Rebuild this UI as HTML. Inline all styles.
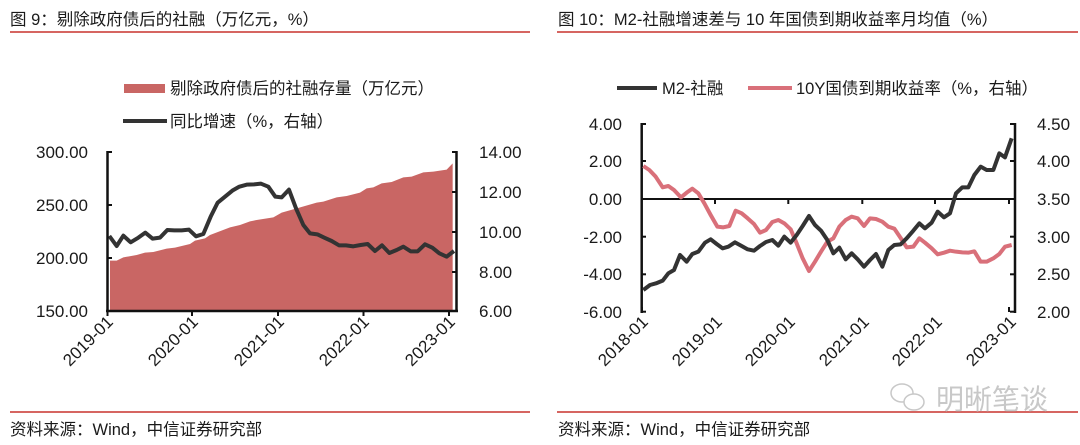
<!DOCTYPE html>
<html><head><meta charset="utf-8"><style>
html,body{margin:0;padding:0;background:#fff}
svg{display:block}
text{font-family:"Liberation Sans","Noto Sans CJK SC",sans-serif;fill:#1a1a1a}
.t{font-size:16.5px}
.tk{font-size:17px}
.xl{font-size:17px}
</style></head><body>
<svg width="1080" height="445" viewBox="0 0 1080 445" xmlns="http://www.w3.org/2000/svg">
<text x="10" y="25" class="t">图 9：剔除政府债后的社融（万亿元，%）</text>
<line x1="10" y1="32" x2="530" y2="32" stroke="#c8322d" stroke-width="1.5"/>
<text x="558" y="25" class="t">图 10：M2-社融增速差与 10 年国债到期收益率月均值（%）</text>
<line x1="557" y1="32" x2="1078" y2="32" stroke="#c8322d" stroke-width="1.5"/>
<line x1="10" y1="412" x2="530" y2="412" stroke="#c8322d" stroke-width="1.5"/>
<line x1="557" y1="412" x2="1078" y2="412" stroke="#c8322d" stroke-width="1.5"/>
<text x="10" y="435" class="t">资料来源：Wind，中信证券研究部</text>
<text x="558" y="435" class="t">资料来源：Wind，中信证券研究部</text>

<rect x="124" y="84" width="41" height="9" fill="#c96664"/>
<text x="170" y="94" class="t">剔除政府债后的社融存量（万亿元）</text>
<line x1="123" y1="121" x2="167" y2="121" stroke="#333" stroke-width="4"/>
<text x="170" y="127" class="t">同比增速（%，右轴）</text>

<g transform="translate(90,140) scale(0.33333)">
<polygon fill="#c96664" points="60,513 60,362 80,362 100,352 140,345 165,338 190,336 230,326 255,323 300,312 315,302 345,295 360,285 420,262 450,255 480,244 500,240 550,232 575,218 620,205 680,188 700,185 740,172 770,168 810,158 830,145 850,142 875,130 905,126 940,112 965,110 1000,97 1030,95 1070,89 1088,70 1088,513"/>
<polyline fill="none" stroke="#333" stroke-width="4" vector-effect="non-scaling-stroke" stroke-linejoin="round" points="58,288 80,318 100,287 122,307 145,293 166,278 188,296 210,293 232,270 253,271 275,271 297,269 318,289 340,282 362,230 383,188 405,170 427,152 448,140 470,134 492,133 513,131 535,140 556,170 575,172 597,149 618,205 640,255 660,280 682,283 703,293 725,303 747,316 768,316 790,319 812,315 833,312 855,333 876,316 898,339 920,330 940,320 962,334 983,334 1005,313 1027,323 1048,340 1070,350 1092,333"/>
</g>
<g stroke="#111" stroke-width="2.5" fill="none">
<line x1="107.5" y1="151" x2="107.5" y2="312"/>
<line x1="456.5" y1="151" x2="456.5" y2="312"/>
<line x1="106" y1="311" x2="458" y2="311"/>
</g>
<g stroke="#111" stroke-width="2">
<line x1="107" y1="152" x2="112" y2="152"/><line x1="107" y1="205" x2="112" y2="205"/><line x1="107" y1="258" x2="112" y2="258"/>
<line x1="452" y1="152" x2="457" y2="152"/><line x1="452" y1="192" x2="457" y2="192"/><line x1="452" y1="232" x2="457" y2="232"/><line x1="452" y1="272" x2="457" y2="272"/>
<line x1="107.5" y1="311" x2="107.5" y2="316"/><line x1="192" y1="311" x2="192" y2="316"/><line x1="278" y1="311" x2="278" y2="316"/><line x1="363.5" y1="311" x2="363.5" y2="316"/><line x1="449" y1="311" x2="449" y2="316"/>
</g>
<g class="tk" text-anchor="end">
<text x="88" y="158">300.00</text><text x="88" y="211">250.00</text><text x="88" y="264">200.00</text><text x="88" y="317">150.00</text>
</g>
<g class="tk">
<text x="479" y="158">14.00</text><text x="479" y="198">12.00</text><text x="479" y="238">10.00</text><text x="479" y="278">8.00</text><text x="479" y="317">6.00</text>
</g>
<g class="xl" text-anchor="end">
<text transform="translate(114,323) rotate(-45)">2019-01</text>
<text transform="translate(199,323) rotate(-45)">2020-01</text>
<text transform="translate(285,323) rotate(-45)">2021-01</text>
<text transform="translate(370,323) rotate(-45)">2022-01</text>
<text transform="translate(456,323) rotate(-45)">2023-01</text>
</g>

<line x1="617" y1="88" x2="657" y2="88" stroke="#333" stroke-width="4"/>
<text x="662" y="94" class="t">M2-社融</text>
<line x1="748" y1="88" x2="792" y2="88" stroke="#d9707a" stroke-width="4"/>
<text x="796" y="94" class="t">10Y国债到期收益率（%，右轴）</text>

<g stroke="#111" fill="none">
<line x1="641.7" y1="123" x2="641.7" y2="313" stroke-width="2.5"/>
<line x1="1015" y1="123" x2="1015" y2="313" stroke-width="2.5"/>
<line x1="641" y1="199" x2="1015" y2="199" stroke-width="2"/>
</g>
<g stroke="#111" stroke-width="2">
<line x1="642" y1="124" x2="646" y2="124"/><line x1="642" y1="161" x2="646" y2="161"/><line x1="642" y1="236.7" x2="646" y2="236.7"/><line x1="642" y1="274.3" x2="646" y2="274.3"/><line x1="642" y1="311.7" x2="646" y2="311.7"/>
<line x1="1010" y1="124" x2="1015" y2="124"/><line x1="1010" y1="161" x2="1015" y2="161"/><line x1="1010" y1="236.7" x2="1015" y2="236.7"/><line x1="1010" y1="274.3" x2="1015" y2="274.3"/><line x1="1010" y1="311.7" x2="1015" y2="311.7"/>
<line x1="715" y1="199" x2="715" y2="204"/><line x1="788.3" y1="199" x2="788.3" y2="204"/><line x1="862.3" y1="199" x2="862.3" y2="204"/><line x1="935" y1="199" x2="935" y2="204"/><line x1="1009" y1="199" x2="1009" y2="204"/>
<line x1="642" y1="307" x2="642" y2="312"/><line x1="1009" y1="307" x2="1009" y2="312"/>
</g>
<g transform="translate(590,110) scale(0.33333)" fill="none" stroke-linejoin="round">
<polyline stroke="#d9707a" stroke-width="4" vector-effect="non-scaling-stroke" points="160,168 178,180 197,200 218,232 235,228 252,240 273,262 290,248 307,236 325,250 343,280 362,315 382,350 400,352 418,348 437,302 455,310 473,325 492,342 510,368 528,360 547,336 565,330 583,340 602,358 620,400 638,445 657,483 675,455 693,425 712,395 730,385 748,350 767,330 785,320 803,325 822,348 840,325 858,327 877,335 895,350 913,356 932,384 950,412 970,410 988,385 1005,398 1025,415 1043,433 1062,428 1080,422 1098,425 1117,427 1135,428 1153,424 1172,455 1190,455 1210,445 1228,432 1245,410 1265,405"/>
<polyline stroke="#333" stroke-width="4" vector-effect="non-scaling-stroke" points="160,540 180,525 198,520 218,512 235,490 252,480 270,435 290,455 307,432 325,425 345,398 362,388 380,402 398,415 415,410 435,397 455,408 473,418 492,422 510,408 528,396 547,390 565,407 583,380 602,398 620,375 638,348 657,318 675,345 693,362 712,390 730,430 748,413 767,448 785,430 803,448 822,470 840,450 858,432 877,470 895,420 913,405 932,403 950,385 970,362 988,340 1005,355 1025,338 1043,305 1062,322 1080,310 1098,250 1117,232 1135,232 1153,195 1172,170 1190,180 1210,180 1228,130 1245,142 1265,85"/>
</g>
<g class="tk" text-anchor="end">
<text x="622" y="130">4.00</text><text x="622" y="167">2.00</text><text x="622" y="205">0.00</text><text x="622" y="243">-2.00</text><text x="622" y="280">-4.00</text><text x="622" y="318">-6.00</text>
</g>
<g class="tk">
<text x="1037" y="130">4.50</text><text x="1037" y="167">4.00</text><text x="1037" y="205">3.50</text><text x="1037" y="243">3.00</text><text x="1037" y="280">2.50</text><text x="1037" y="318">2.00</text>
</g>
<g class="xl" text-anchor="end">
<text transform="translate(649,323) rotate(-45)">2018-01</text>
<text transform="translate(723,323) rotate(-45)">2019-01</text>
<text transform="translate(796,323) rotate(-45)">2020-01</text>
<text transform="translate(870,323) rotate(-45)">2021-01</text>
<text transform="translate(943,323) rotate(-45)">2022-01</text>
<text transform="translate(1017,323) rotate(-45)">2023-01</text>
</g>
<g fill="none" stroke="#c8c8c8" stroke-width="1.5">
<ellipse cx="902" cy="393" rx="11" ry="9"/>
<ellipse cx="914" cy="402" rx="10" ry="8" fill="#fff"/>
</g>
<text x="936" y="409" style="font-size:28px;fill:#c8c8c8">明晰笔谈</text>
</svg>
</body></html>
